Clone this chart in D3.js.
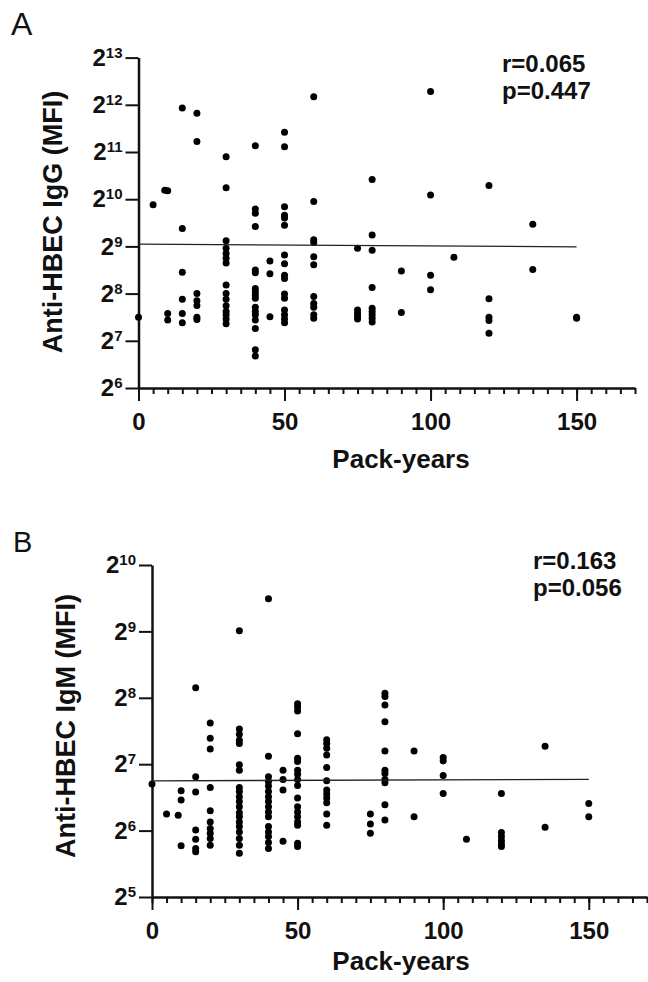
<!DOCTYPE html>
<html lang="en">
<head>
<meta charset="utf-8">
<title>Anti-HBEC vs pack-years</title>
<script src="https://cdn.jsdelivr.net/npm/d3@7"></script>
<style>
  body { margin: 0; background: #fff; }
  text { font-family: "Liberation Sans", Arial, sans-serif; }
</style>
</head>
<body>
<script type="text/javascript">

// pack-year groups and the log2(MFI) of each dot in that group
var packYearsA = [0, 5, 9, 10, 15, 20, 30, 40, 45, 50, 60, 75, 80, 90, 100, 108, 120, 135, 150];
var log2IgG = [
    [7.50],
    [9.88],
    [10.19],
    [10.18, 7.58, 7.44],
    [11.93, 9.38, 8.45, 7.88, 7.58, 7.38],
    [11.82, 11.22, 8.00, 7.85, 7.75, 7.50, 7.45],
    [10.90, 10.24, 9.12, 8.96, 8.85, 8.75, 8.65, 8.18, 8.00, 7.88, 7.74, 7.62, 7.55, 7.46, 7.36],
    [11.13, 9.79, 9.70, 9.42, 8.50, 8.44, 8.11, 8.04, 7.97, 7.90, 7.71, 7.62, 7.55, 7.44, 7.26, 6.81, 6.68],
    [8.69, 8.42, 7.51],
    [11.42, 11.11, 9.84, 9.66, 9.60, 9.45, 8.82, 8.63, 8.39, 8.32, 7.99, 7.90, 7.65, 7.55, 7.46, 7.38],
    [12.17, 9.95, 9.14, 9.08, 8.78, 8.61, 7.94, 7.79, 7.71, 7.55, 7.48],
    [8.96, 7.65, 7.58, 7.51, 7.46],
    [10.42, 9.24, 8.92, 8.13, 7.69, 7.62, 7.55, 7.48, 7.40],
    [8.48, 7.60],
    [12.28, 10.09, 8.39, 8.08],
    [8.77],
    [10.29, 7.89, 7.50, 7.43, 7.16],
    [9.47, 8.51],
    [7.50, 7.48]
];

var packYearsB = [0, 5, 9, 10, 15, 20, 30, 40, 45, 50, 60, 75, 80, 90, 100, 108, 120, 135, 150];
var log2IgM = [
    [6.70],
    [6.25],
    [6.23],
    [6.60, 6.46, 5.77],
    [8.15, 6.81, 6.58, 6.01, 5.87, 5.73, 5.68],
    [7.62, 7.39, 7.23, 6.65, 6.30, 6.13, 6.03, 5.96, 5.88, 5.78],
    [9.01, 7.53, 7.45, 7.36, 7.31, 6.99, 6.91, 6.65, 6.59, 6.51, 6.44, 6.36, 6.27, 6.21, 6.13, 6.06, 5.98, 5.88, 5.78, 5.66],
    [9.49, 7.12, 6.81, 6.74, 6.67, 6.59, 6.51, 6.44, 6.36, 6.28, 6.21, 6.06, 5.98, 5.91, 5.82, 5.73],
    [6.91, 6.77, 6.61, 5.84],
    [7.91, 7.86, 7.80, 7.46, 7.09, 7.04, 6.91, 6.85, 6.77, 6.68, 6.49, 6.36, 6.28, 6.21, 6.13, 6.08, 5.81, 5.76],
    [7.37, 7.31, 7.24, 7.14, 6.95, 6.75, 6.61, 6.55, 6.49, 6.42, 6.25, 6.08],
    [6.25, 6.10, 5.96],
    [8.07, 8.02, 7.89, 7.64, 7.20, 6.91, 6.86, 6.77, 6.72, 6.39, 6.16],
    [7.20, 6.21],
    [7.10, 7.05, 6.83, 6.56],
    [5.87],
    [6.56, 5.97, 5.91, 5.85, 5.80, 5.76],
    [7.27, 6.05],
    [6.41, 6.21]
];

// fitted line, read at its two ends
var fitX = [0, 150];
var fitA = [9.05, 8.99];
var fitB = [6.75, 6.77];

var xMajorTicks = [0, 50, 100, 150];
var statsA = ["r=0.065", "p=0.447"];
var statsB = ["r=0.163", "p=0.056"];

var width = 648;
var height = 982;

var svg = d3.select("body").append("svg")
            .attr("width", width)
            .attr("height", height);

function drawPanel(p) {
    var g = svg.append("g");

    var x = d3.scaleLinear().domain([0, 170]).range([p.left, p.right]);
    var y = d3.scaleLog().base(2)
              .domain([Math.pow(2, p.yMin), Math.pow(2, p.yMax)])
              .range([p.bottom, p.top]);

    // minor ticks every 5
    g.append("g")
        .attr("transform", "translate(0," + p.bottom + ")")
        .call(d3.axisBottom(x).tickValues(d3.range(0, 171, 5)).tickSize(6).tickFormat(""))
        .call(s => s.select(".domain").remove());

    var xa = g.append("g")
        .attr("transform", "translate(0," + p.bottom + ")")
        .call(d3.axisBottom(x).tickValues(xMajorTicks).tickSize(13).tickSizeOuter(0).tickPadding(12));
    xa.selectAll("text")
        .attr("font-size", 24)
        .attr("font-weight", "bold")
        .attr("fill", "#111");

    var ya = g.append("g")
        .attr("transform", "translate(" + p.left + ",0)")
        .call(d3.axisLeft(y)
            .tickValues(d3.range(p.yMin, p.yMax + 1).map(e => Math.pow(2, e)))
            .tickSize(13).tickSizeOuter(0).tickPadding(3).tickFormat(""));
    ya.selectAll(".tick text").each(function(d) {
        var t = d3.select(this)
            .attr("font-size", 24)
            .attr("font-weight", "bold")
            .attr("fill", "#111");
        t.append("tspan").text("2");
        t.append("tspan")
            .attr("font-size", 15)
            .attr("dy", -8)
            .text(Math.round(Math.log2(d)));
    });

    g.selectAll(".domain").attr("stroke", "#111").attr("stroke-width", 2.5);
    g.selectAll(".tick line").attr("stroke", "#111").attr("stroke-width", 2);

    // dots
    var pts = [];
    p.groups.forEach((grp, i) => {
        grp.forEach(v => pts.push({ px: p.packYears[i], v: v }));
    });
    g.selectAll("circle.dot")
        .data(pts)
        .enter()
        .append("circle")
        .attr("class", "dot")
        .attr("cx", d => x(d.px))
        .attr("cy", d => y(Math.pow(2, d.v)))
        .attr("r", 3.5)
        .attr("fill", "#000");

    // fitted line
    g.append("line")
        .attr("x1", x(fitX[0]))
        .attr("x2", x(fitX[1]))
        .attr("y1", y(Math.pow(2, p.fit[0])))
        .attr("y2", y(Math.pow(2, p.fit[1])))
        .attr("stroke", "#222")
        .attr("stroke-width", 1.3);

    // axis titles
    g.append("text")
        .attr("transform", "translate(" + p.yLabelX + "," + p.yLabelY + ") rotate(-90)")
        .attr("text-anchor", "middle")
        .attr("dominant-baseline", "central")
        .attr("font-size", 27)
        .attr("font-weight", "bold")
        .attr("fill", "#111")
        .text(p.yLabel);

    g.append("text")
        .attr("x", p.xLabelX)
        .attr("y", p.xLabelY)
        .attr("text-anchor", "middle")
        .attr("font-size", 26)
        .attr("font-weight", "bold")
        .attr("fill", "#111")
        .text("Pack-years");

    // r / p
    g.selectAll("text.stat")
        .data(p.stats)
        .enter()
        .append("text")
        .attr("class", "stat")
        .attr("x", p.statX)
        .attr("y", (d, i) => p.statY + i * 27)
        .attr("font-size", 24)
        .attr("font-weight", "bold")
        .attr("fill", "#111")
        .text(d => d);

    g.append("text")
        .attr("x", p.letterX)
        .attr("y", p.letterY)
        .attr("font-family", "'Open Sans', sans-serif")
        .attr("font-size", p.letterSize)
        .attr("fill", "#111")
        .text(p.letter);
}

drawPanel({
    packYears: packYearsA, groups: log2IgG, fit: fitA,
    left: 138.5, right: 635, top: 57.6, bottom: 388, yMin: 6, yMax: 13,
    yLabel: "Anti-HBEC IgG (MFI)", yLabelX: 53, yLabelY: 222,
    xLabelX: 401, xLabelY: 468,
    stats: statsA, statX: 502, statY: 72,
    letter: "A", letterX: 11, letterY: 35, letterSize: 32
});

drawPanel({
    packYears: packYearsB, groups: log2IgM, fit: fitB,
    left: 152, right: 647, top: 565, bottom: 897, yMin: 5, yMax: 10,
    yLabel: "Anti-HBEC IgM (MFI)", yLabelX: 66, yLabelY: 726,
    xLabelX: 401, xLabelY: 970,
    stats: statsB, statX: 533, statY: 569,
    letter: "B", letterX: 13, letterY: 552, letterSize: 29
});

</script>
</body>
</html>
